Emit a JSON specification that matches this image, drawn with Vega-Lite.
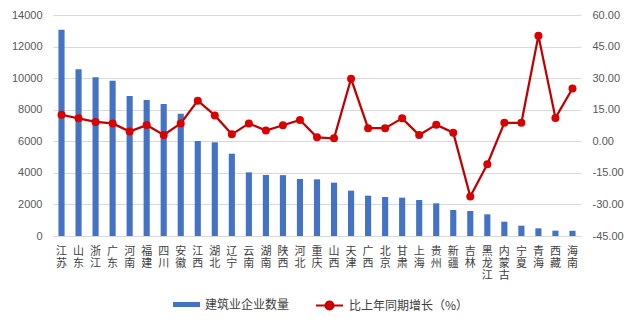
{
  "$schema": "https://vega.github.io/schema/vega-lite/v6.json",
  "width": 528,
  "height": 221,
  "autosize": {"type": "none"},
  "padding": {"left": 53, "top": 15, "right": 59, "bottom": 90},
  "background": "white",
  "config": {
    "view": {"stroke": null},
    "font": "Liberation Sans",
    "axis": {"labelColor": "#595959", "ticks": false, "titleFontSize": 0, "labelFontSize": 11}
  },
  "data": {
    "values": [
      {"p": "江苏", "n": 13060, "g": 12.6},
      {"p": "山东", "n": 10560, "g": 10.9},
      {"p": "浙江", "n": 10050, "g": 9.2},
      {"p": "广东", "n": 9840, "g": 8.5},
      {"p": "河南", "n": 8870, "g": 4.6},
      {"p": "福建", "n": 8615, "g": 7.7},
      {"p": "四川", "n": 8362, "g": 3.0},
      {"p": "安徽", "n": 7750, "g": 8.5},
      {"p": "江西", "n": 6018, "g": 19.3},
      {"p": "湖北", "n": 5935, "g": 12.3},
      {"p": "辽宁", "n": 5215, "g": 3.3},
      {"p": "云南", "n": 4033, "g": 8.5},
      {"p": "湖南", "n": 3864, "g": 5.1},
      {"p": "陕西", "n": 3855, "g": 7.6},
      {"p": "河北", "n": 3611, "g": 10.1},
      {"p": "重庆", "n": 3590, "g": 1.9},
      {"p": "山西", "n": 3378, "g": 1.4},
      {"p": "天津", "n": 2872, "g": 29.7},
      {"p": "广西", "n": 2555, "g": 6.2},
      {"p": "北京", "n": 2470, "g": 6.2},
      {"p": "甘肃", "n": 2428, "g": 10.9},
      {"p": "上海", "n": 2280, "g": 3.0},
      {"p": "贵州", "n": 2070, "g": 7.9},
      {"p": "新疆", "n": 1647, "g": 4.1},
      {"p": "吉林", "n": 1584, "g": -26.2},
      {"p": "黑龙江", "n": 1373, "g": -10.9},
      {"p": "内蒙古", "n": 907, "g": 8.8},
      {"p": "宁夏", "n": 653, "g": 8.8},
      {"p": "青海", "n": 486, "g": 50.2},
      {"p": "西藏", "n": 338, "g": 11.1},
      {"p": "海南", "n": 330, "g": 25.1}
    ]
  },
  "encoding": {
    "x": {
      "field": "p",
      "type": "nominal",
      "sort": null,
      "scale": {"paddingInner": 0.64, "paddingOuter": 0.32},
      "axis": {
        "title": null,
        "labelAngle": 0,
        "labelExpr": "split(datum.label, '')",
        "labelFont": "Noto Sans CJK SC",
        "labelFontSize": 11,
        "labelLineHeight": 12,
        "labelPadding": 9,
        "labelColor": "#404040",
        "domainColor": "#D9D9D9",
        "grid": false
      }
    }
  },
  "layer": [
    {
      "mark": {"type": "bar"},
      "encoding": {
        "y": {
          "field": "n",
          "type": "quantitative",
          "scale": {"domain": [0, 14000], "nice": false},
          "axis": {
            "title": null,
            "values": [0, 2000, 4000, 6000, 8000, 10000, 12000, 14000],
            "format": "d",
            "domain": false,
            "grid": true,
            "gridColor": "#D9D9D9",
            "labelPadding": 11
          }
        },
        "fill": {
          "datum": "建筑业企业数量",
          "scale": {"range": ["#4472C4"]},
          "legend": {
            "title": null,
            "orient": "none",
            "legendX": 120,
            "legendY": 276,
            "symbolType": "M-1,-0.185H1V0.185H-1Z",
            "symbolSize": 729,
            "symbolStrokeWidth": 0,
            "labelFont": "Noto Sans CJK SC",
            "labelFontSize": 12,
            "labelColor": "#404040",
            "labelOffset": 5
          }
        }
      }
    },
    {
      "mark": {"type": "line", "strokeWidth": 2.25},
      "encoding": {
        "y": {
          "field": "g",
          "type": "quantitative",
          "scale": {"domain": [-45, 60], "nice": false},
          "axis": {
            "title": null,
            "orient": "right",
            "values": [-45, -30, -15, 0, 15, 30, 45, 60],
            "labelExpr": "replace(format(datum.value, '.2f'), '\u2212', '-')",
            "domain": false,
            "grid": false,
            "labelPadding": 11
          }
        },
        "stroke": {
          "datum": "比上年同期增长（%）",
          "scale": {"range": ["#C00000"]},
          "legend": {
            "title": null,
            "orient": "none",
            "legendX": 262,
            "legendY": 276,
            "symbolType": "M-1,0H1M-0.3,0A0.3,0.3,0,1,0,0.3,0A0.3,0.3,0,1,0,-0.3,0Z",
            "symbolSize": 729,
            "symbolStrokeWidth": 2,
            "symbolFillColor": "#D90000",
            "labelFont": "Noto Sans CJK SC",
            "labelFontSize": 12,
            "labelColor": "#404040",
            "labelOffset": 5
          }
        }
      }
    },
    {
      "mark": {"type": "point", "filled": true, "size": 64, "color": "#D90000", "opacity": 1},
      "encoding": {
        "y": {"field": "g", "type": "quantitative", "scale": {"domain": [-45, 60], "nice": false}, "axis": null}
      }
    }
  ],
  "resolve": {"scale": {"y": "independent"}}
}
